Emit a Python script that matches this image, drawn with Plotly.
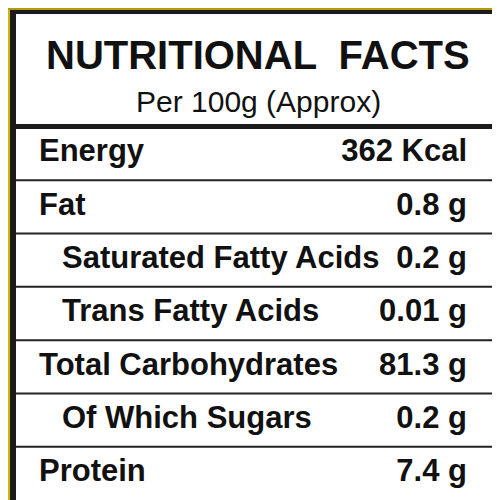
import plotly.graph_objects as go

# ── Data ──────────────────────────────────────────────────────────────────────
TITLE = "NUTRITIONAL  FACTS"
SUBTITLE = "Per 100g (Approx)"
NUTRIENTS = ["Energy", "Fat", "Saturated Fatty Acids", "Trans Fatty Acids",
             "Total Carbohydrates", "Of Which Sugars", "Protein"]
AMOUNTS = ["362 Kcal", "0.8 g", "0.2 g", "0.01 g", "81.3 g", "0.2 g", "7.4 g"]
INDENTED = [False, False, True, True, False, True, False]

# ── Layout geometry (pixel space, y downwards) ────────────────────────────────
W = H = 500
BOX_L, BOX_R, BOX_T, BOX_B = 8, 493, 6, 492
HEAD_B = 119
ROW_H = (BOX_B - HEAD_B) / len(NUTRIENTS)
FONT = "Liberation Sans Narrow, Arial Narrow, Liberation Sans, sans-serif"

fig = go.Figure()

centers = [HEAD_B + ROW_H * (i + 0.5) for i in range(len(NUTRIENTS))]
xs = [54 if ind else 31 for ind in INDENTED]

fig.add_trace(go.Scatter(
    x=xs, y=centers, mode="text", text=[f"<b>{n}</b>" for n in NUTRIENTS],
    textposition="middle right", hoverinfo="skip",
    textfont=dict(family=FONT, size=31, color="#111"),
))
fig.add_trace(go.Scatter(
    x=[459] * len(AMOUNTS), y=centers, mode="text",
    text=[f"<b>{a}</b>" for a in AMOUNTS],
    textposition="middle left", hoverinfo="skip",
    textfont=dict(family=FONT, size=31, color="#111"),
))

shapes = [
    dict(type="rect", x0=0, x1=W, y0=0, y1=H, fillcolor="#1b1b1b", line_width=0, layer="below"),
    dict(type="line", x0=1, x1=1, y0=0, y1=H, line=dict(color="#d8b400", width=2)),
    dict(type="line", x0=0, x1=W, y0=1, y1=1, line=dict(color="#b89a00", width=2)),
    dict(type="rect", x0=BOX_L, x1=BOX_R, y0=BOX_T, y1=HEAD_B - 3,
         fillcolor="white", line_width=0, layer="below"),
    dict(type="rect", x0=BOX_L, x1=BOX_R, y0=HEAD_B + 2, y1=BOX_B,
         fillcolor="white", line_width=0, layer="below"),
]
for i in range(1, len(NUTRIENTS)):
    y = HEAD_B + ROW_H * i
    shapes.append(dict(type="line", x0=BOX_L, x1=BOX_R, y0=y, y1=y,
                       line=dict(color="#222", width=2)))

annotations = [
    dict(x=W / 2, y=47, text=f"<b>{TITLE}</b>", showarrow=False,
         font=dict(family=FONT, size=40, color="#111")),
    dict(x=W / 2, y=93, text=SUBTITLE, showarrow=False,
         font=dict(family=FONT, size=30, color="#111")),
]

fig.update_layout(
    width=W, height=H, margin=dict(l=0, r=0, t=0, b=0),
    paper_bgcolor="#1b1b1b", plot_bgcolor="#1b1b1b", showlegend=False,
    xaxis=dict(range=[0, W], visible=False, fixedrange=True),
    yaxis=dict(range=[H, 0], visible=False, fixedrange=True),
    shapes=shapes, annotations=annotations,
)

fig.write_html("out.html")
